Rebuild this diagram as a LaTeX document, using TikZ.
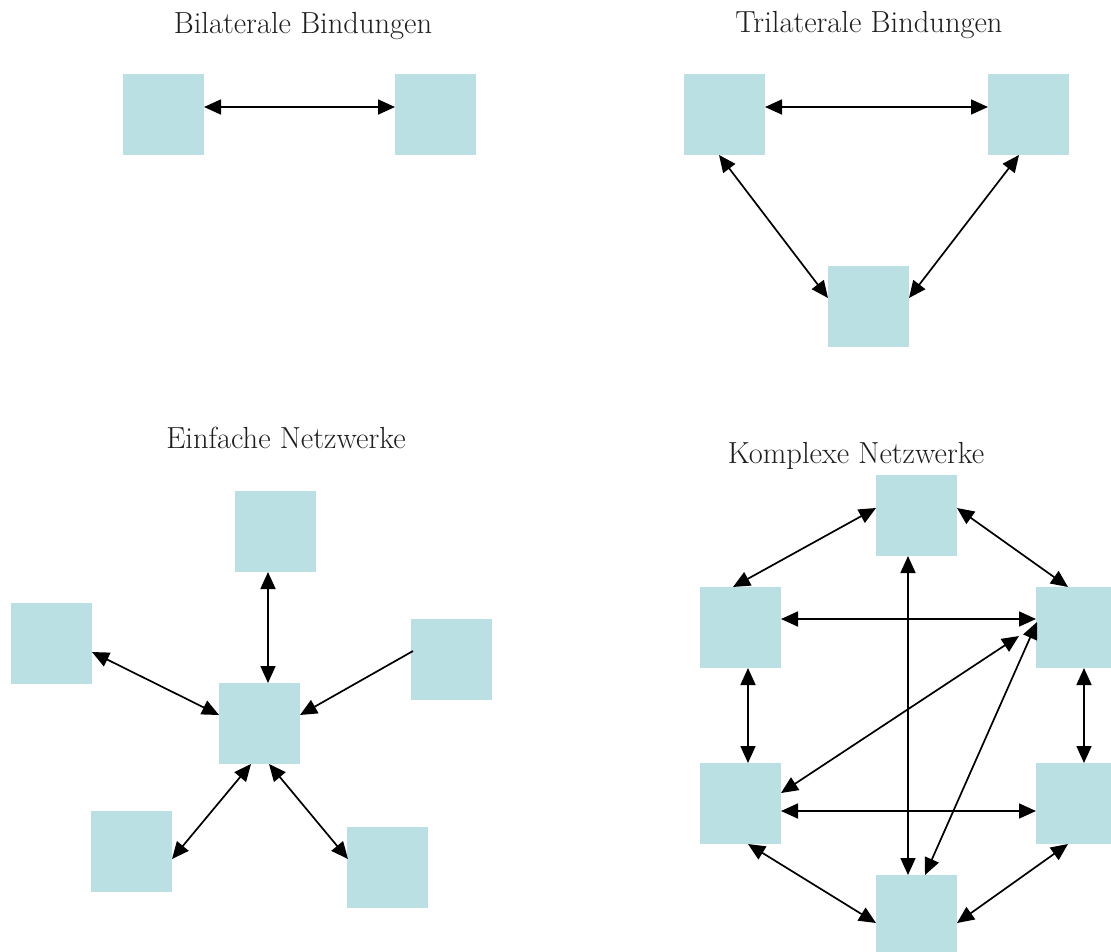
\documentclass[tikz,border=0pt]{standalone}
\usetikzlibrary{arrows.meta,calc}
\definecolor{boxblue}{HTML}{BBE0E3}
\definecolor{txt}{HTML}{1E1E1E}
\begin{document}
\begin{tikzpicture}[x=1pt,y=-1pt,
  sq/.style={fill=boxblue,draw=none,minimum width=81pt,minimum height=81pt,inner sep=0pt,anchor=north west},
  title/.style={anchor=base,inner sep=0pt,text=txt,font=\fontsize{30.5}{36}\selectfont},
  link/.style={line width=1.7pt,{Triangle[length=17pt,width=15pt]}-{Triangle[length=17pt,width=15pt]}},
  onelink/.style={line width=1.7pt,-{Triangle[length=17pt,width=15pt]}}]
\useasboundingbox (0,0) rectangle (1111,951);
\clip (0,0) rectangle (1111,951);
% titles
\node[title] (t1) at (303,33) {Bilaterale Bindungen};
\node[title] (t2) at (869,32) {Trilaterale Bindungen};
\node[title] (t3) at (286,448) {Einfache Netzwerke};
\node[title] (t4) at (856,463) {Komplexe Netzwerke};
% bilateral
\node[sq] (A1) at (123,74) {};
\node[sq] (A2) at (395,74) {};
\draw[link] ($(A1.north west)+(81,33)$) -- ($(A2.north west)+(0,33)$);
% trilateral
\node[sq] (B1) at (684,74) {};
\node[sq] (B2) at (988,74) {};
\node[sq] (B3) at (828,266) {};
\draw[link] ($(B1.north west)+(81,33)$) -- ($(B2.north west)+(0,33)$);
\draw[link] ($(B1.north west)+(35,81)$) -- ($(B3.north west)+(0,32)$);
\draw[link] ($(B3.north west)+(81,32)$) -- ($(B2.north west)+(31,81)$);
% einfache netzwerke
\node[sq] (C0) at (219,683) {};
\node[sq] (Ct) at (235,491) {};
\node[sq] (Cl) at (11,603) {};
\node[sq] (Cr) at (411,619) {};
\node[sq] (Cbl) at (91,811) {};
\node[sq] (Cbr) at (347,827) {};
\draw[link] ($(Ct.north west)+(33,81)$) -- ($(C0.north west)+(49,0)$);
\draw[link] ($(Cl.north west)+(81,49)$) -- ($(C0.north west)+(0,32)$);
\draw[onelink] ($(Cr.north west)+(2,32)$) -- ($(C0.north west)+(81,32)$);
\draw[link] ($(C0.north west)+(32,81)$) -- ($(Cbl.north west)+(81,48)$);
\draw[link] ($(C0.north west)+(50,81)$) -- ($(Cbr.north west)+(1,32)$);
% komplexe netzwerke
\node[sq] (T) at (876,475) {};
\node[sq] (UL) at (700,587) {};
\node[sq] (UR) at (1036,587) {};
\node[sq] (LL) at (700,763) {};
\node[sq] (LR) at (1036,763) {};
\node[sq] (BT) at (876,875) {};
\coordinate (dE) at (1019,636);
\draw[link] ($(T.north west)+(0,33)$) -- ($(UL.north west)+(33,0)$);
\draw[link] ($(T.north west)+(81,33)$) -- ($(UR.north west)+(32,0)$);
\draw[link] ($(T.north west)+(32,81)$) -- ($(BT.north west)+(32,0)$);
\draw[link] ($(UL.north west)+(81,32)$) -- ($(UR.north west)+(0,32)$);
\draw[link] ($(UL.north west)+(48,81)$) -- ($(LL.north west)+(48,0)$);
\draw[link] ($(UR.north west)+(48,81)$) -- ($(LR.north west)+(48,0)$);
\draw[link] ($(LL.north west)+(81,48)$) -- ($(LR.north west)+(0,48)$);
\draw[link] ($(LL.north west)+(81,30)$) -- (dE);
\draw[link] ($(UR.north west)+(1,35)$) -- ($(BT.north west)+(49,0)$);
\draw[link] ($(LL.north west)+(48,81)$) -- ($(BT.north west)+(0,48)$);
\draw[link] ($(LR.north west)+(32,81)$) -- ($(BT.north west)+(81,48)$);
\end{tikzpicture}
\end{document}
